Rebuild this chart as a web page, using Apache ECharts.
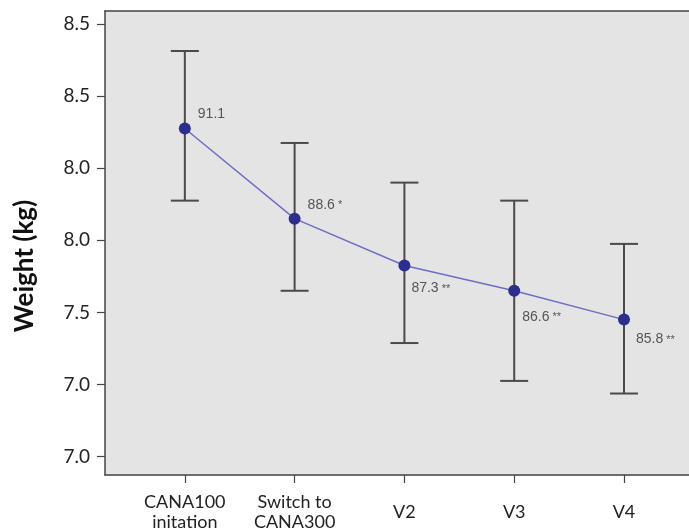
<!DOCTYPE html>
<html>
<head>
<meta charset="utf-8">
<script src="https://cdn.jsdelivr.net/npm/echarts@6/dist/echarts.min.js"></script>
<style>
html,body{margin:0;padding:0;background:#fff;}
#chart{width:689px;height:532px;}
</style>
</head>
<body>
<div id="chart"></div>
<script>
var categories = ["CANA100\ninitation", "Switch to\nCANA300", "V2", "V3", "V4"];
var means = [91.1, 88.6, 87.3, 86.6, 85.8];
var upperBounds = [93.25, 90.7, 89.6, 89.1, 87.9];
var lowerBounds = [89.1, 86.6, 85.15, 84.1, 83.75];
var significance = ["", "*", "**", "**", "**"];
var yTickValues = [82, 84, 86, 88, 90, 92, 94];
var yTickLabels = ["7.0", "7.0", "7.5", "8.0", "8.0", "8.5", "8.5"];
var yTitle = "Weight (kg)";

var labelDistance = [7, 7, 1, 2, 6];
var labelShift = [-14, -14, 23, 26, 20];

var chart = echarts.init(document.getElementById('chart'), null, {renderer: 'canvas'});

var lineData = means.map(function (v, i) {
  return {
    value: [i, v],
    label: { distance: labelDistance[i], offset: [0, labelShift[i]] }
  };
});
var errData = means.map(function (v, i) { return [i, lowerBounds[i], upperBounds[i]]; });

var axisColor = '#444';
var xMin = -0.727, xMax = 4.592;

var option = {
  animation: false,
  backgroundColor: '#ffffff',
  grid: {
    left: 105, right: 0, top: 11, bottom: 56,
    show: false
  },
  xAxis: [{
    type: 'value',
    min: xMin,
    max: xMax,
    splitLine: { show: false },
    axisLine: { show: true, onZero: false, lineStyle: { color: axisColor, width: 1.5 } },
    axisTick: { show: true, length: 8, customValues: [0, 1, 2, 3, 4], lineStyle: { color: axisColor, width: 1.2 } },
    axisLabel: {
      customValues: [0, 1, 2, 3, 4],
      formatter: function (v) { return categories[Math.round(v)]; },
      fontFamily: 'Lato', fontSize: 18, color: '#222',
      lineHeight: 20, margin: 37, verticalAlign: 'middle'
    }
  }, {
    type: 'value',
    position: 'top',
    min: xMin,
    max: xMax,
    splitLine: { show: false },
    axisLine: { show: true, onZero: false, lineStyle: { color: axisColor, width: 1.5 } },
    axisTick: { show: false },
    axisLabel: { show: false }
  }],
  yAxis: {
    type: 'value',
    min: 81.49,
    max: 94.36,
    splitLine: { show: false },
    axisLine: { show: true, onZero: false, lineStyle: { color: axisColor, width: 1.5 } },
    axisTick: { show: true, length: 8, customValues: yTickValues, lineStyle: { color: axisColor, width: 1.2 } },
    axisLabel: {
      customValues: yTickValues,
      formatter: function (v) {
        var idx = yTickValues.indexOf(Math.round(v));
        return idx >= 0 ? yTickLabels[idx] : '';
      },
      fontFamily: 'Lato', fontSize: 19, color: '#222', margin: 15
    }
  },
  graphic: [{
    type: 'rect',
    z: -10,
    silent: true,
    shape: { x: 105, y: 11, width: 584, height: 465 },
    style: { fill: '#e4e4e4' }
  }, {
    type: 'text',
    x: 25, y: 266,
    rotation: Math.PI / 2,
    style: {
      text: yTitle,
      font: 'bold 26px Lato',
      fill: '#111',
      align: 'center',
      verticalAlign: 'middle'
    }
  }],
  series: [{
    type: 'custom',
    data: errData,
    z: 2,
    renderItem: function (params, api) {
      var x = api.value(0);
      var lo = api.coord([x, api.value(1)]);
      var hi = api.coord([x, api.value(2)]);
      var hw = 14;
      var st = { stroke: '#4a4a4a', lineWidth: 2 };
      return {
        type: 'group',
        children: [
          { type: 'line', shape: { x1: lo[0], y1: lo[1], x2: hi[0], y2: hi[1] }, style: st },
          { type: 'line', shape: { x1: hi[0] - hw, y1: hi[1], x2: hi[0] + hw, y2: hi[1] }, style: st },
          { type: 'line', shape: { x1: lo[0] - hw, y1: lo[1], x2: lo[0] + hw, y2: lo[1] }, style: st }
        ]
      };
    }
  }, {
    type: 'line',
    z: 3,
    data: lineData,
    symbol: 'circle',
    symbolSize: 12,
    itemStyle: { color: '#2b2e8c' },
    lineStyle: { color: '#6e6ec2', width: 1.5 },
    label: {
      show: true,
      position: 'right',
      formatter: function (p) {
        var s = significance[p.dataIndex];
        return '{v|' + means[p.dataIndex].toFixed(1) + '}' + (s ? '{s| ' + s + '}' : '');
      },
      rich: {
        v: { fontFamily: 'Liberation Sans', fontSize: 14, color: '#555' },
        s: { fontFamily: 'Liberation Sans', fontSize: 11, color: '#555' }
      }
    }
  }]
};
chart.setOption(option);
</script>
</body>
</html>
